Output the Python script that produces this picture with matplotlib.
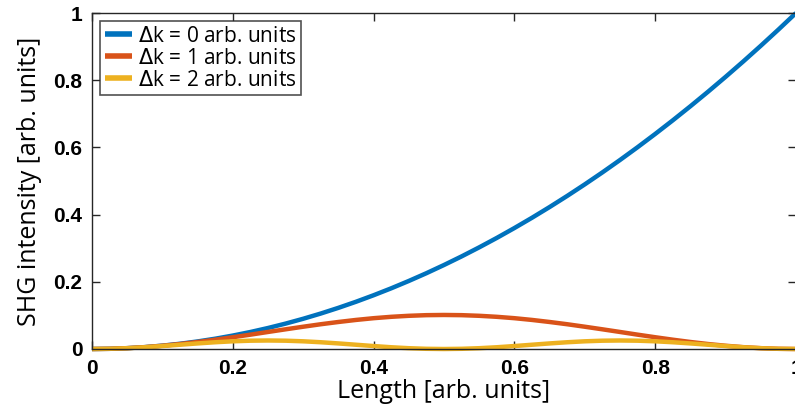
import matplotlib.pyplot as plt
import numpy as np

# sampled from the reference curves, x step 0.025
length = [i * 0.025 for i in range(41)]

dk0 = [0, .0006, .0025, .0056, .0100, .0156, .0225, .0306, .0400, .0506,
       .0625, .0756, .0900, .1056, .1225, .1406, .1600, .1806, .2025, .2256,
       .2500, .2756, .3025, .3306, .3600, .3906, .4225, .4556, .4900, .5256,
       .5625, .6006, .6400, .6806, .7225, .7656, .8100, .8556, .9025, .9506, 1.0]

dk1 = [0, .0006, .0025, .0055, .0097, .0148, .0209, .0277, .0350, .0427,
       .0507, .0586, .0663, .0737, .0804, .0865, .0917, .0958, .0988, .1007,
       .1013, .1007, .0988, .0958, .0917, .0865, .0804, .0737, .0663, .0586,
       .0507, .0427, .0350, .0277, .0209, .0148, .0097, .0055, .0025, .0006, 0]

dk2 = [0, .0006, .0024, .0052, .0088, .0127, .0166, .0201, .0229, .0247,
       .0253, .0247, .0229, .0201, .0166, .0127, .0088, .0052, .0024, .0006,
       0, .0006, .0024, .0052, .0088, .0127, .0166, .0201, .0229, .0247,
       .0253, .0247, .0229, .0201, .0166, .0127, .0088, .0052, .0024, .0006, 0]

labels = ['$\\Delta$k = 0 arb. units', '$\\Delta$k = 1 arb. units', '$\\Delta$k = 2 arb. units']
colors = ['#0072BD', '#D95319', '#EDB120']

xticks = [0, 0.2, 0.4, 0.6, 0.8, 1]
yticks = [0, 0.2, 0.4, 0.6, 0.8, 1]
tick_labels = ['0', '0.2', '0.4', '0.6', '0.8', '1']

plt.rcParams['mathtext.fontset'] = 'dejavusans'

fig = plt.figure(figsize=(7.95, 4.12), dpi=100)
ax = fig.add_axes([92/795, 63/412, 704/795, 336/412])

for ys, lab, c in zip([dk0, dk1, dk2], labels, colors):
    ax.plot(length, ys, color=c, lw=3.2, label=lab, solid_capstyle='butt', clip_on=False)

ax.set_xlim(0, 1)
ax.set_ylim(0, 1)
ax.set_xticks(xticks)
ax.set_yticks(yticks)
ax.set_xticklabels(tick_labels, fontsize=15, fontweight='bold', family='Liberation Sans')
ax.set_yticklabels(tick_labels, fontsize=15, fontweight='bold', family='Liberation Sans')
ax.tick_params(direction='in', top=True, right=True, length=6, width=1, color='#262626', pad=7)
for s in ax.spines.values():
    s.set_color('#262626')
    s.set_linewidth(1)

ax.set_xlabel('Length [arb. units]', fontsize=18, family='Open Sans', labelpad=1)
ax.set_ylabel('SHG intensity [arb. units]', fontsize=18, family='Open Sans', labelpad=8)

leg = ax.legend(loc='upper left', prop={'family': 'Open Sans', 'size': 15},
                handlelength=1.3, handletextpad=0.3, borderpad=0.2, labelspacing=0.05,
                fancybox=False, edgecolor='#262626', borderaxespad=0.4)
leg.get_frame().set_linewidth(1.2)
for h in leg.get_lines():
    h.set_linewidth(4)

fig.savefig('out.png', dpi=100)
